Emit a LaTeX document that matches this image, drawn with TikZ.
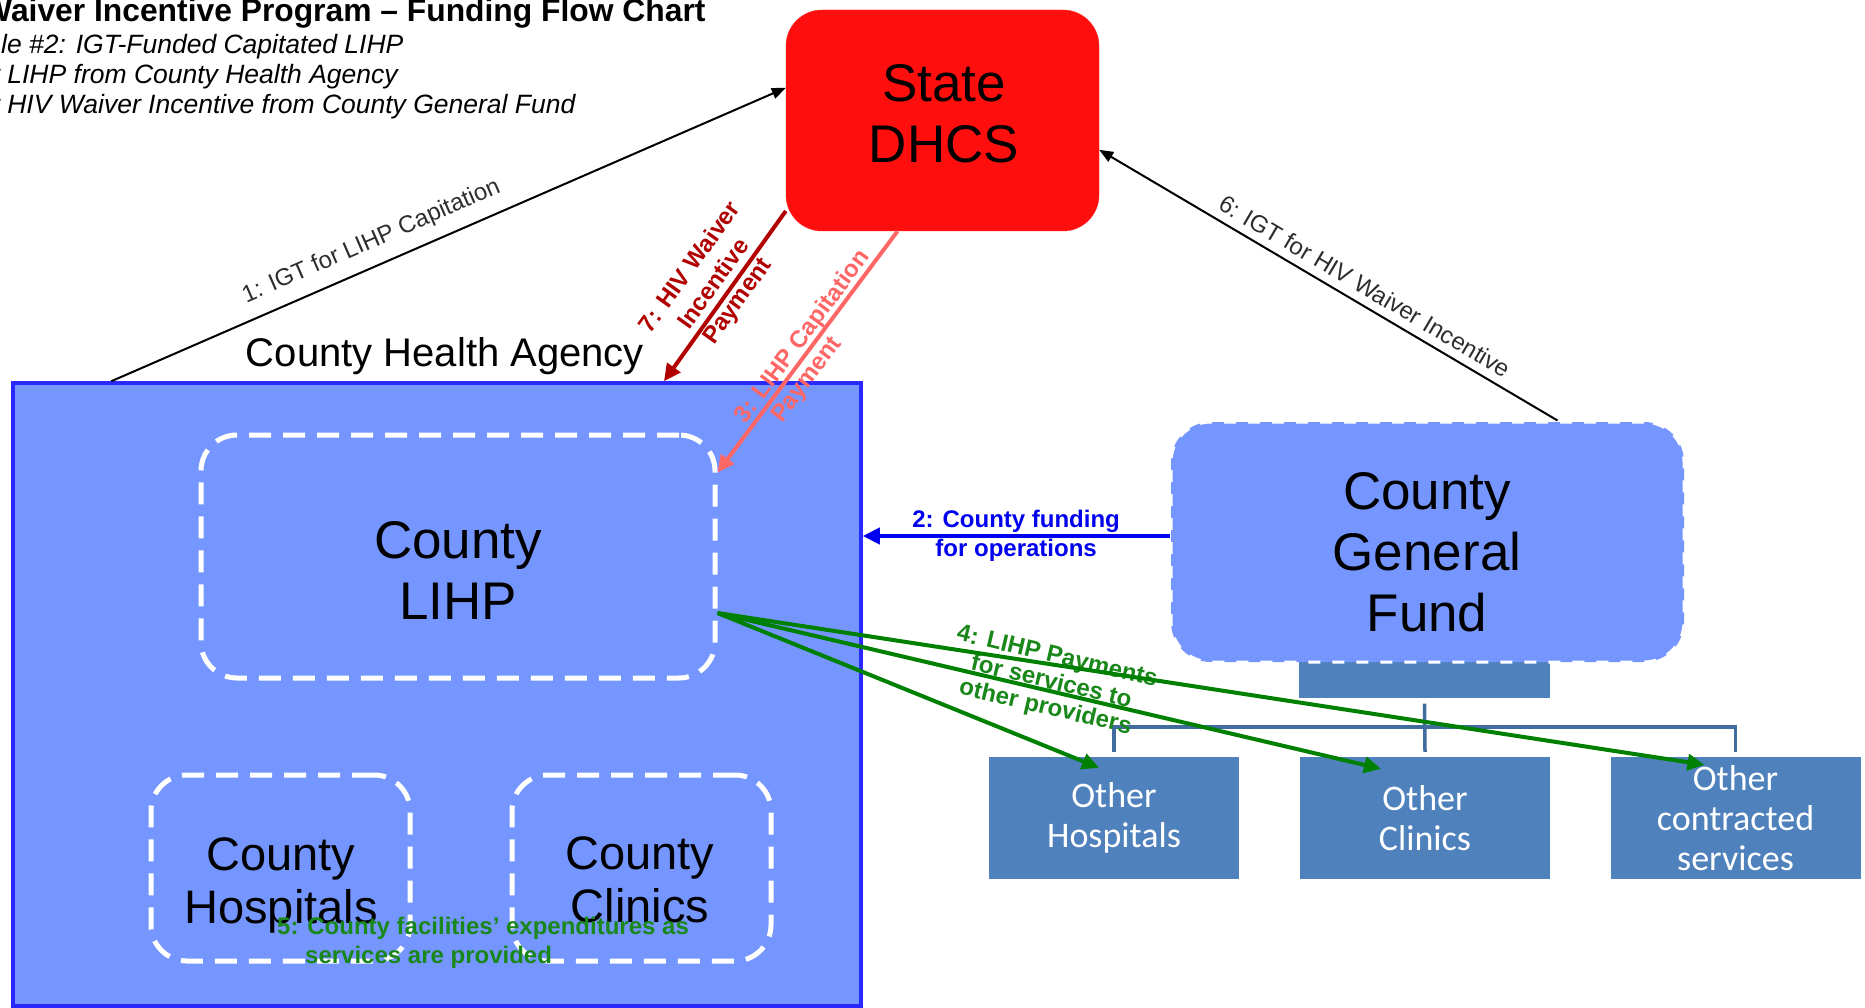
\documentclass[tikz,border=0pt]{standalone}
\usepackage{fontspec}
\setmainfont{Liberation Sans}
\newfontfamily\calibri{Carlito}
\usetikzlibrary{arrows.meta, positioning}

\definecolor{dhcsred}{RGB}{255,14,14}
\definecolor{agencyfill}{RGB}{117,150,255}
\definecolor{agencyline}{RGB}{40,40,255}
\definecolor{orgblue}{RGB}{79,129,189}
\definecolor{orgline}{RGB}{65,108,160}
\definecolor{paygreen}{RGB}{0,128,0}
\definecolor{labelgreen}{RGB}{25,135,25}
\definecolor{hivred}{RGB}{176,0,0}
\definecolor{lihpred}{RGB}{255,102,102}
\definecolor{fundblue}{RGB}{0,0,240}
\definecolor{igtgray}{RGB}{45,45,45}

\begin{document}
\begin{tikzpicture}[x=1pt, y=-1pt,
  dhcsbox/.style={draw=red!85!white, fill=dhcsred, rounded corners=36pt, inner sep=0pt},
  agencybox/.style={draw=agencyline, fill=agencyfill, line width=3.5pt, inner sep=0pt},
  unitbox/.style={draw=white, line width=5pt, dash pattern=on 22pt off 12pt, rounded corners=36pt, inner sep=0pt},
  fundbox/.style={draw=white, fill=agencyfill, line width=3pt, dash pattern=on 12pt off 12pt, rounded corners=40pt, inner sep=0pt},
  orgbox/.style={fill=orgblue, inner sep=0pt, minimum width=250pt, minimum height=122pt, text=white, align=center, font=\calibri\fontsize{36}{40}\selectfont},
  bigtext/.style={align=center, inner sep=0pt, font=\fontsize{53}{61}\selectfont},
  midtext/.style={align=center, inner sep=0pt, font=\fontsize{47}{53}\selectfont},
  flowlabel/.style={align=center, inner sep=0pt, font=\bfseries\fontsize{24}{29}\selectfont},
  igtarrow/.style={draw=black, line width=2pt, -{Triangle[length=14pt, width=11pt]}},
  igtlabel/.style={text=igtgray, inner sep=0pt, sloped, font=\fontsize{24}{29}\selectfont},
  payarrow/.style={line width=4pt, -{Triangle[length=17pt, width=16pt]}},
  treeline/.style={draw=orgline, line width=3.5pt}
]
\useasboundingbox (0,0) rectangle (1865,1008);

% heading
\node[anchor=base west, inner sep=0pt, font=\bfseries\fontsize{31.8}{37}\selectfont] (title) at (-18,22) {Waiver Incentive Program – Funding Flow Chart};
\node[anchor=base west, inner sep=0pt, font=\itshape\fontsize{26.5}{30}\selectfont] (example) at (1,54) {le \#2: IGT-Funded Capitated LIHP};
\node[anchor=base west, inner sep=0pt, font=\itshape\fontsize{26.5}{30}\selectfont] (steplihp) at (-9,84) {r LIHP from County Health Agency};
\node[anchor=base west, inner sep=0pt, font=\itshape\fontsize{26.5}{30}\selectfont] (stephiv) at (-9,114) {r HIV Waiver Incentive from County General Fund};

% state and county boxes
\node[dhcsbox, minimum width=313pt, minimum height=221pt] (dhcs) at (942.5,120.5) {};
\node[bigtext] (dhcstext) at (944,114) {State\\DHCS};
\node[agencybox, minimum width=848pt, minimum height=623pt] (cha) at (437,694.5) {};
\node[anchor=base, inner sep=0pt, font=\fontsize{40}{48}\selectfont] (chatext) at (445,366) {County Health Agency};
\node[unitbox, minimum width=514pt, minimum height=243pt] (lihp) at (458,556.5) {};
\node[bigtext] (lihptext) at (458,570) {County\\LIHP};
\node[unitbox, minimum width=259pt, minimum height=186pt] (chosp) at (280.5,868) {};
\node[midtext] (chosptext) at (281,885) {County\\Hospitals};
\node[unitbox, minimum width=259pt, minimum height=186pt] (cclin) at (641.5,868) {};
\node[midtext] (cclintext) at (640,880) {County\\Clinics};
\node[flowlabel, anchor=west, align=left, text=labelgreen] (facexp) at (277,943) {5: County facilities’ expenditures as\\\hspace*{28pt}services are provided};

% general fund and other providers
\node[fill=orgblue, minimum width=251pt, minimum height=37pt, inner sep=0pt] (bar) at (1424.5,679) {};
\node[fundbox, minimum width=513pt, minimum height=240pt] (cgf) at (1427.5,542) {};
\node[bigtext] (cgftext) at (1427,552) {County\\General\\Fund};
\node[orgbox] (ohosp) at (1114,818) {Other\\Hospitals};
\node[orgbox] (oclin) at (1425,818) {Other\\Clinics};
\node[orgbox] (ocont) at (1735.5,818) {Other\\contracted\\services};
\coordinate (fork) at (1425,727);
\draw[treeline] ([yshift=-6pt]bar.south) -- ([yshift=5pt]oclin.north);
\draw[treeline] ([yshift=5pt]ohosp.north) |- (fork) -| ([yshift=5pt]ocont.north);

% funding flows
\draw[igtarrow] ([xshift=100pt]cha.north west) -- ([yshift=-78pt]dhcs.north west)
  node[igtlabel, pos=0.40, yshift=24pt] (igtlihp) {1: IGT for LIHP Capitation};
\draw[igtarrow] ([xshift=-128pt]cgf.north east) -- ([yshift=-140pt]dhcs.north east)
  node[igtlabel, pos=0.44, yshift=18pt] (igthiv) {6: IGT for HIV Waiver Incentive};
\draw[payarrow, hivred] (dhcs.210) -- ([xshift=227pt]cha.north)
  node[flowlabel, sloped, pos=0.485, yshift=15pt] (hivpay) {7: HIV Waiver\\Incentive\\Payment};
\draw[payarrow, lihpred] ([xshift=-45pt]dhcs.south) -- ([yshift=-40pt]lihp.north east)
  node[flowlabel, sloped, pos=0.47, yshift=-2pt] (lihppay) {3: LIHP Capitation\\Payment\hspace*{64pt}};
\draw[payarrow, fundblue] ([yshift=6pt]cgf.west) -- ([yshift=6pt]cgf.west -| cha.east)
  node[flowlabel, midway] (opfund) {2: County funding\\for operations};
\draw[payarrow, paygreen] ([yshift=-56.5pt]lihp.east) -- ([xshift=-15pt, yshift=-11pt]ohosp.north);
\draw[payarrow, paygreen] ([yshift=-56.5pt]lihp.east) -- ([xshift=-44pt, yshift=-12pt]oclin.north)
  node[flowlabel, sloped, pos=0.50, yshift=8pt, font=\bfseries\fontsize{24}{26}\selectfont, text=labelgreen] (provpay) {4: LIHP Payments\\for services to\\other providers};
\draw[payarrow, paygreen] ([yshift=-56.5pt]lihp.east) -- ([xshift=-31pt, yshift=-8pt]ocont.north);
\end{tikzpicture}
\end{document}
